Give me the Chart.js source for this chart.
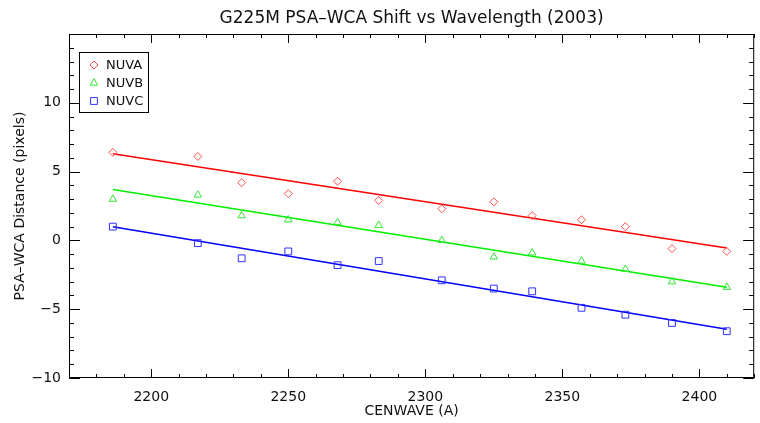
<!DOCTYPE html>
<html>
<head>
<meta charset="utf-8">
<script src="https://cdn.jsdelivr.net/npm/chart.js@4.4.0/dist/chart.umd.min.js"></script>
<style>
  body { margin: 0; background: #fff; }
  canvas { display: block; }
</style>
</head>
<body>
<canvas id="shiftChart" width="760" height="423"></canvas>
<script>
// values
const cenwave = [2186, 2217, 2233, 2250, 2268, 2283, 2306, 2325, 2339, 2357, 2373, 2390, 2410];
const nuva = [6.4, 6.1, 4.2, 3.4, 4.3, 2.9, 2.3, 2.8, 1.8, 1.5, 1.0, -0.6, -0.8];
const nuvb = [3.0, 3.3, 1.8, 1.5, 1.3, 1.1, 0.0, -1.2, -0.9, -1.5, -2.1, -3.0, -3.4];
const nuvc = [1.0, -0.2, -1.3, -0.8, -1.8, -1.5, -2.9, -3.5, -3.7, -4.9, -5.4, -6.0, -6.6];

// fitted lines (end points)
const fitX = [2186, 2410];
const fitA = [6.3, -0.55];
const fitB = [3.7, -3.4];
const fitC = [1.0, -6.45];

const xTicks = [2200, 2250, 2300, 2350, 2400];
const yTicks = [-10, -5, 0, 5, 10];
const xRange = [2170, 2420];
const yRange = [-10, 15];

const seriesNames = ["NUVA", "NUVB", "NUVC"];
const titleText = "G225M PSA\u2013WCA Shift vs Wavelength (2003)";
const xTitle = "CENWAVE (A)";
const yTitle = "PSA\u2013WCA Distance (pixels)";

const FONT = "'DejaVu Sans', sans-serif";
const pts = (xs, ys) => xs.map((x, i) => ({ x: x, y: ys[i] }));

// frame, inward ticks on all four sides, titles and legend
const idlFrame = {
  id: "idlFrame",
  afterDraw(chart) {
    const ctx = chart.ctx;
    const a = chart.chartArea;
    const xs = chart.scales.x, ys = chart.scales.y;
    ctx.save();
    ctx.strokeStyle = "#000";
    ctx.lineWidth = 1;
    ctx.strokeRect(a.left + 0.5, a.top + 0.5, a.right - a.left - 1, a.bottom - a.top - 1);

    ctx.beginPath();
    for (let v = xRange[0]; v <= xRange[1]; v += 10) {
      const px = Math.round(xs.getPixelForValue(v)) + 0.5;
      const len = v % 50 === 0 ? 9 : 4;
      ctx.moveTo(px, a.bottom); ctx.lineTo(px, a.bottom - len);
      ctx.moveTo(px, a.top); ctx.lineTo(px, a.top + len);
    }
    for (let v = yRange[0]; v <= yRange[1]; v += 1) {
      const py = Math.round(ys.getPixelForValue(v)) + 0.5;
      const len = v % 5 === 0 ? 11 : 5;
      ctx.moveTo(a.left, py); ctx.lineTo(a.left + len, py);
      ctx.moveTo(a.right, py); ctx.lineTo(a.right - len, py);
    }
    ctx.stroke();

    // titles
    ctx.fillStyle = "#111";
    ctx.textAlign = "center";
    ctx.textBaseline = "middle";
    const cx = (a.left + a.right) / 2;
    ctx.font = "17px " + FONT;
    ctx.fillText(titleText, cx, 19);
    ctx.font = "14px " + FONT;
    ctx.fillText(xTitle, cx, 411);
    ctx.save();
    ctx.translate(20, (a.top + a.bottom) / 2);
    ctx.rotate(-Math.PI / 2);
    ctx.fillText(yTitle, 0, 0);
    ctx.restore();

    // legend box
    ctx.strokeStyle = "#000";
    ctx.strokeRect(79.5, 52.5, 69, 60);
    ctx.font = "13px " + FONT;
    ctx.textAlign = "left";
    chart.data.datasets.slice(0, 3).forEach((ds, i) => {
      const y = 65 + i * 18;
      ctx.fillStyle = "rgba(0,0,0,0)";
      ctx.strokeStyle = ds.borderColor;
      ctx.lineWidth = 1;
      Chart.helpers.drawPoint(ctx, { pointStyle: ds.pointStyle, radius: ds.pointRadius, borderWidth: 1 }, 94, y);
      ctx.fillStyle = "#111";
      ctx.fillText(ds.label, 106, y + 1);
    });
    ctx.restore();
  }
};

const ctx = document.getElementById("shiftChart").getContext("2d");
new Chart(ctx, {
  type: "scatter",
  data: {
    datasets: [
      { label: seriesNames[0], data: pts(cenwave, nuva), pointStyle: "rectRot", pointRadius: 4,
        borderColor: "#ff5050", backgroundColor: "rgba(0,0,0,0)", borderWidth: 1, showLine: false },
      { label: seriesNames[1], data: pts(cenwave, nuvb), pointStyle: "triangle", pointRadius: 4.3,
        borderColor: "#30e830", backgroundColor: "rgba(0,0,0,0)", borderWidth: 1, showLine: false },
      { label: seriesNames[2], data: pts(cenwave, nuvc), pointStyle: "rect", pointRadius: 4.8,
        borderColor: "#3030ff", backgroundColor: "rgba(0,0,0,0)", borderWidth: 1, showLine: false },
      { label: "fitA", data: pts(fitX, fitA), showLine: true, pointRadius: 0, borderColor: "#ff0000", borderWidth: 1.5 },
      { label: "fitB", data: pts(fitX, fitB), showLine: true, pointRadius: 0, borderColor: "#00ee00", borderWidth: 1.5 },
      { label: "fitC", data: pts(fitX, fitC), showLine: true, pointRadius: 0, borderColor: "#0000ff", borderWidth: 1.5 }
    ]
  },
  options: {
    responsive: false,
    devicePixelRatio: 1,
    animation: false,
    layout: { padding: { top: 34, right: 3, left: 0, bottom: 0 } },
    plugins: { legend: { display: false }, tooltip: { enabled: false }, title: { display: false } },
    scales: {
      x: {
        type: "linear", min: xRange[0], max: xRange[1],
        grid: { display: false, drawTicks: false },
        border: { display: false },
        afterFit: s => { s.height = 45; },
        afterBuildTicks: s => { s.ticks = xTicks.map(v => ({ value: v })); },
        ticks: { padding: 11, color: "#111", font: { family: FONT, size: 14 }, callback: v => String(v) }
      },
      y: {
        type: "linear", min: yRange[0], max: yRange[1],
        grid: { display: false, drawTicks: false },
        border: { display: false },
        afterFit: s => { s.width = 69; },
        afterBuildTicks: s => { s.ticks = yTicks.map(v => ({ value: v })); },
        ticks: { padding: 8, color: "#111", font: { family: FONT, size: 14 }, callback: v => String(v).replace("-", "\u2212") }
      }
    }
  },
  plugins: [idlFrame]
});
</script>
</body>
</html>
